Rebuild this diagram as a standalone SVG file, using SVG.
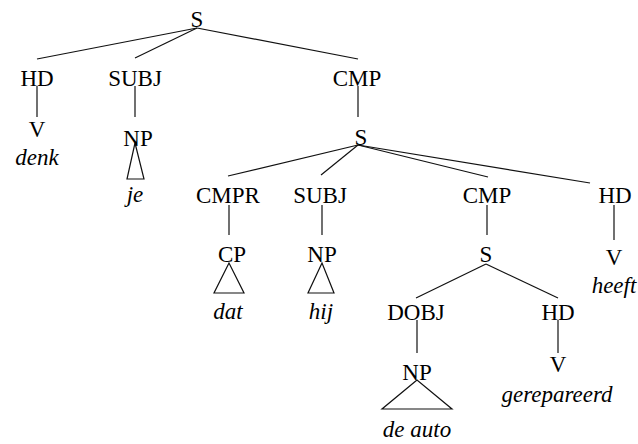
<svg xmlns="http://www.w3.org/2000/svg" width="638" height="444" viewBox="0 0 638 444">
<style>
.t text{font-size:23px;fill:#000;text-anchor:middle}
.w{font-style:italic}
#edges line,#edges polygon{stroke:#111;stroke-width:1.2;fill:none}
</style>
<rect width="638" height="444" fill="#fff"/>
<g id="edges">
<line x1="197" y1="28" x2="37" y2="59"/>
<line x1="197" y1="28" x2="135" y2="58"/>
<line x1="197" y1="28" x2="358" y2="59"/>
<line x1="37" y1="86" x2="37" y2="117"/>
<line x1="135" y1="86" x2="135" y2="117"/>
<line x1="358" y1="86" x2="358" y2="117"/>
<polygon points="135,143 127,179 144,179"/>
<line x1="358" y1="145" x2="228" y2="176"/>
<line x1="358" y1="145" x2="321" y2="175"/>
<line x1="358" y1="145" x2="488" y2="177"/>
<line x1="358" y1="145" x2="590" y2="183"/>
<line x1="229" y1="205" x2="229" y2="235"/>
<line x1="322" y1="205" x2="322" y2="235"/>
<line x1="487" y1="205" x2="487" y2="235"/>
<line x1="614" y1="205" x2="614" y2="240"/>
<polygon points="229,263 214,293 244,293"/>
<polygon points="322,263 308,293 334,293"/>
<line x1="486" y1="264" x2="416" y2="298"/>
<line x1="486" y1="264" x2="558" y2="298"/>
<line x1="417" y1="320" x2="417" y2="353"/>
<line x1="558" y1="320" x2="558" y2="353"/>
<polygon points="417,380 382,409 452,409"/>
</g>
<g class="t" font-family="Liberation Serif, Times New Roman, DejaVu Serif, serif">
<g id="n-S0"><text x="197" y="27">S</text></g>
<g id="n-HD1"><text x="37" y="86">HD</text></g>
<g id="n-V1"><text x="37" y="137">V</text><text class="w" x="37" y="165">denk</text></g>
<g id="n-SUBJ1"><text x="135" y="86">SUBJ</text></g>
<g id="n-NP1"><text x="138" y="146">NP</text><text class="w" x="135" y="202">je</text></g>
<g id="n-CMP1"><text x="357" y="86">CMP</text></g>
<g id="n-S1"><text x="361" y="145">S</text></g>
<g id="n-CMPR"><text x="228" y="203">CMPR</text></g>
<g id="n-CP"><text x="232" y="262">CP</text><text class="w" x="228" y="319">dat</text></g>
<g id="n-SUBJ2"><text x="320" y="203">SUBJ</text></g>
<g id="n-NP2"><text x="322" y="262">NP</text><text class="w" x="321" y="319">hij</text></g>
<g id="n-CMP2"><text x="487" y="203">CMP</text></g>
<g id="n-S2"><text x="486" y="262">S</text></g>
<g id="n-HD2"><text x="615" y="203">HD</text></g>
<g id="n-V2"><text x="614" y="265">V</text><text class="w" x="614" y="293">heeft</text></g>
<g id="n-DOBJ"><text x="416" y="320">DOBJ</text></g>
<g id="n-NP3"><text x="417" y="380">NP</text><text class="w" x="417" y="437">de auto</text></g>
<g id="n-HD3"><text x="558" y="320">HD</text></g>
<g id="n-V3"><text x="558" y="372">V</text><text class="w" x="557" y="402">gerepareerd</text></g>
</g>
</svg>
